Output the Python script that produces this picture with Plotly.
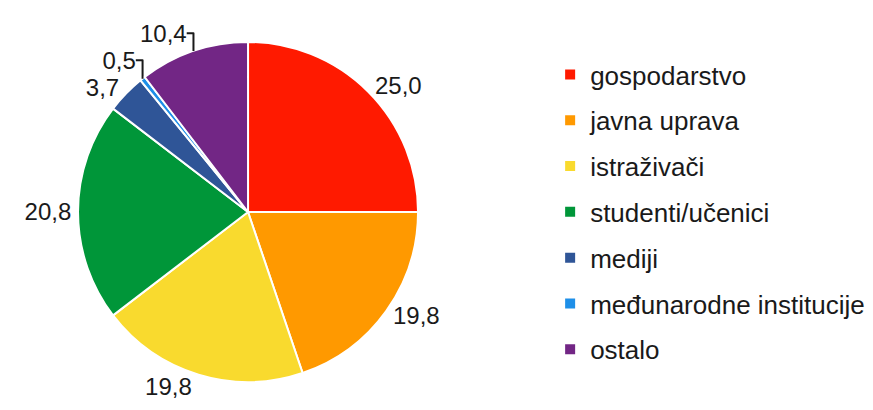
import plotly.graph_objects as go

categories = ["gospodarstvo", "javna uprava", "istraživači", "studenti/učenici",
              "mediji", "međunarodne institucije", "ostalo"]
values = [25.0, 19.8, 19.8, 20.8, 3.7, 0.5, 10.4]
colors = ["#FF1A00", "#FF9900", "#F9DA2E", "#009639", "#2F5597", "#1E8FE8", "#722685"]

fig = go.Figure()
fig.add_trace(go.Pie(
    labels=categories, values=values, sort=False, direction="clockwise", rotation=0,
    marker=dict(colors=colors, line=dict(color="white", width=2)),
    texttemplate="%{value:.1f}", textposition="outside",
    textfont=dict(family="Liberation Sans, Arial, sans-serif", size=24, color="#1a1a1a"),
    domain=dict(x=[0.0802, 0.4697], y=[0.0878, 0.9171]),
    showlegend=False, hoverinfo="label+value",
))

for name, col in zip(categories, colors):
    fig.add_trace(go.Scatter(
        x=[None], y=[None], mode="markers", name=name, legendgroup=name,
        marker=dict(symbol="square", size=10, color=col),
    ))

fig.update_layout(
    width=873, height=410, separators=",.",
    margin=dict(l=0, r=0, t=0, b=0),
    paper_bgcolor="white", plot_bgcolor="white",
    xaxis=dict(visible=False), yaxis=dict(visible=False),
    legend=dict(
        x=0.621, xanchor="left", y=0.895, yanchor="top",
        font=dict(family="Liberation Sans, Arial, sans-serif", size=26, color="#1a1a1a"),
        tracegroupgap=9, itemwidth=30, traceorder="grouped",
    ),
)
fig.write_html("out.html")
